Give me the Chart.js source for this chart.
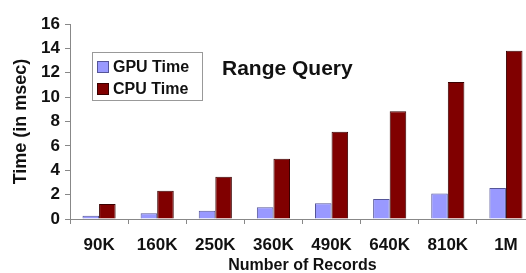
<!DOCTYPE html>
<html>
<head>
<meta charset="utf-8">
<script src="https://cdn.jsdelivr.net/npm/chart.js@4"></script>
<style>
  html, body { margin: 0; padding: 0; background: #fff; overflow: hidden; }
  /* the original chart is cut off on the right, so the canvas is a bit wider than the window */
  #wrap { width: 540px; height: 273px; }
</style>
</head>
<body>
<div id="wrap"><canvas id="chart"></canvas></div>
<script>
const records = ['90K', '160K', '250K', '360K', '490K', '640K', '810K', '1M'];
const gpuTime = [0.27, 0.47, 0.68, 0.96, 1.29, 1.64, 2.1, 2.54];
const cpuTime = [1.23, 2.32, 3.47, 4.94, 7.16, 8.85, 11.25, 13.8];

const FONT = 'Liberation Sans, Arial, sans-serif';

// legend box + title sit inside the plot area
const overlay = {
  id: 'overlay',
  afterDraw(chart) {
    const c = chart.ctx;
    c.save();
    c.fillStyle = '#fff';
    c.strokeStyle = '#999';
    c.lineWidth = 1;
    c.fillRect(92.5, 52.5, 110, 48);
    c.strokeRect(92.5, 52.5, 110, 48);
    chart.data.datasets.forEach((ds, i) => {
      const y = 67 + i * 22;
      c.fillStyle = ds.backgroundColor;
      c.fillRect(97, y - 6, 12, 12);
      c.strokeStyle = ds.borderColor;
      c.strokeRect(97.5, y - 5.5, 11, 11);
      c.fillStyle = '#111';
      c.font = 'bold 16px ' + FONT;
      c.textBaseline = 'middle';
      c.fillText(ds.label, 113, y + 1);
    });
    c.font = 'bold 21px ' + FONT;
    c.textBaseline = 'middle';
    c.fillStyle = '#111';
    c.fillText('Range Query', 222, 69);
    c.restore();
  }
};

new Chart(document.getElementById('chart'), {
  type: 'bar',
  data: {
    labels: records,
    datasets: [
      { label: 'GPU Time', data: gpuTime, backgroundColor: '#9999ff', borderColor: '#555599', borderWidth: 1 },
      { label: 'CPU Time', data: cpuTime, backgroundColor: '#800000', borderColor: '#3a0000', borderWidth: 1 }
    ]
  },
  options: {
    responsive: true,
    maintainAspectRatio: false,
    animation: false,
    layout: { padding: { top: 24, right: 5, left: 0, bottom: 0 } },
    datasets: { bar: { categoryPercentage: 0.57, barPercentage: 1 } },
    plugins: { legend: { display: false }, tooltip: { enabled: false } },
    scales: {
      x: {
        afterFit(scale) { scale.height = 54; },
        grid: { drawOnChartArea: false, color: '#888', tickLength: 5, offset: true },
        border: { color: '#888' },
        ticks: { color: '#111', font: { family: FONT, size: 17, weight: 'bold', lineHeight: 1 }, padding: 13 },
        title: { display: true, text: 'Number of Records', color: '#111', font: { family: FONT, size: 16, weight: 'bold', lineHeight: 0.875 }, padding: { top: 0, bottom: 0 } }
      },
      y: {
        afterFit(scale) { scale.width = 70; },
        min: 0, max: 16,
        grid: { drawOnChartArea: false, color: '#888', tickLength: 5 },
        border: { color: '#888' },
        ticks: { stepSize: 2, autoSkip: false, color: '#111', font: { family: FONT, size: 17, weight: 'bold' }, padding: 5 },
        title: { display: true, text: 'Time (in msec)', color: '#111', font: { family: FONT, size: 18, weight: 'bold', lineHeight: 1 }, padding: { top: 12, bottom: 6 } }
      }
    }
  },
  plugins: [overlay]
});
</script>
</body>
</html>
